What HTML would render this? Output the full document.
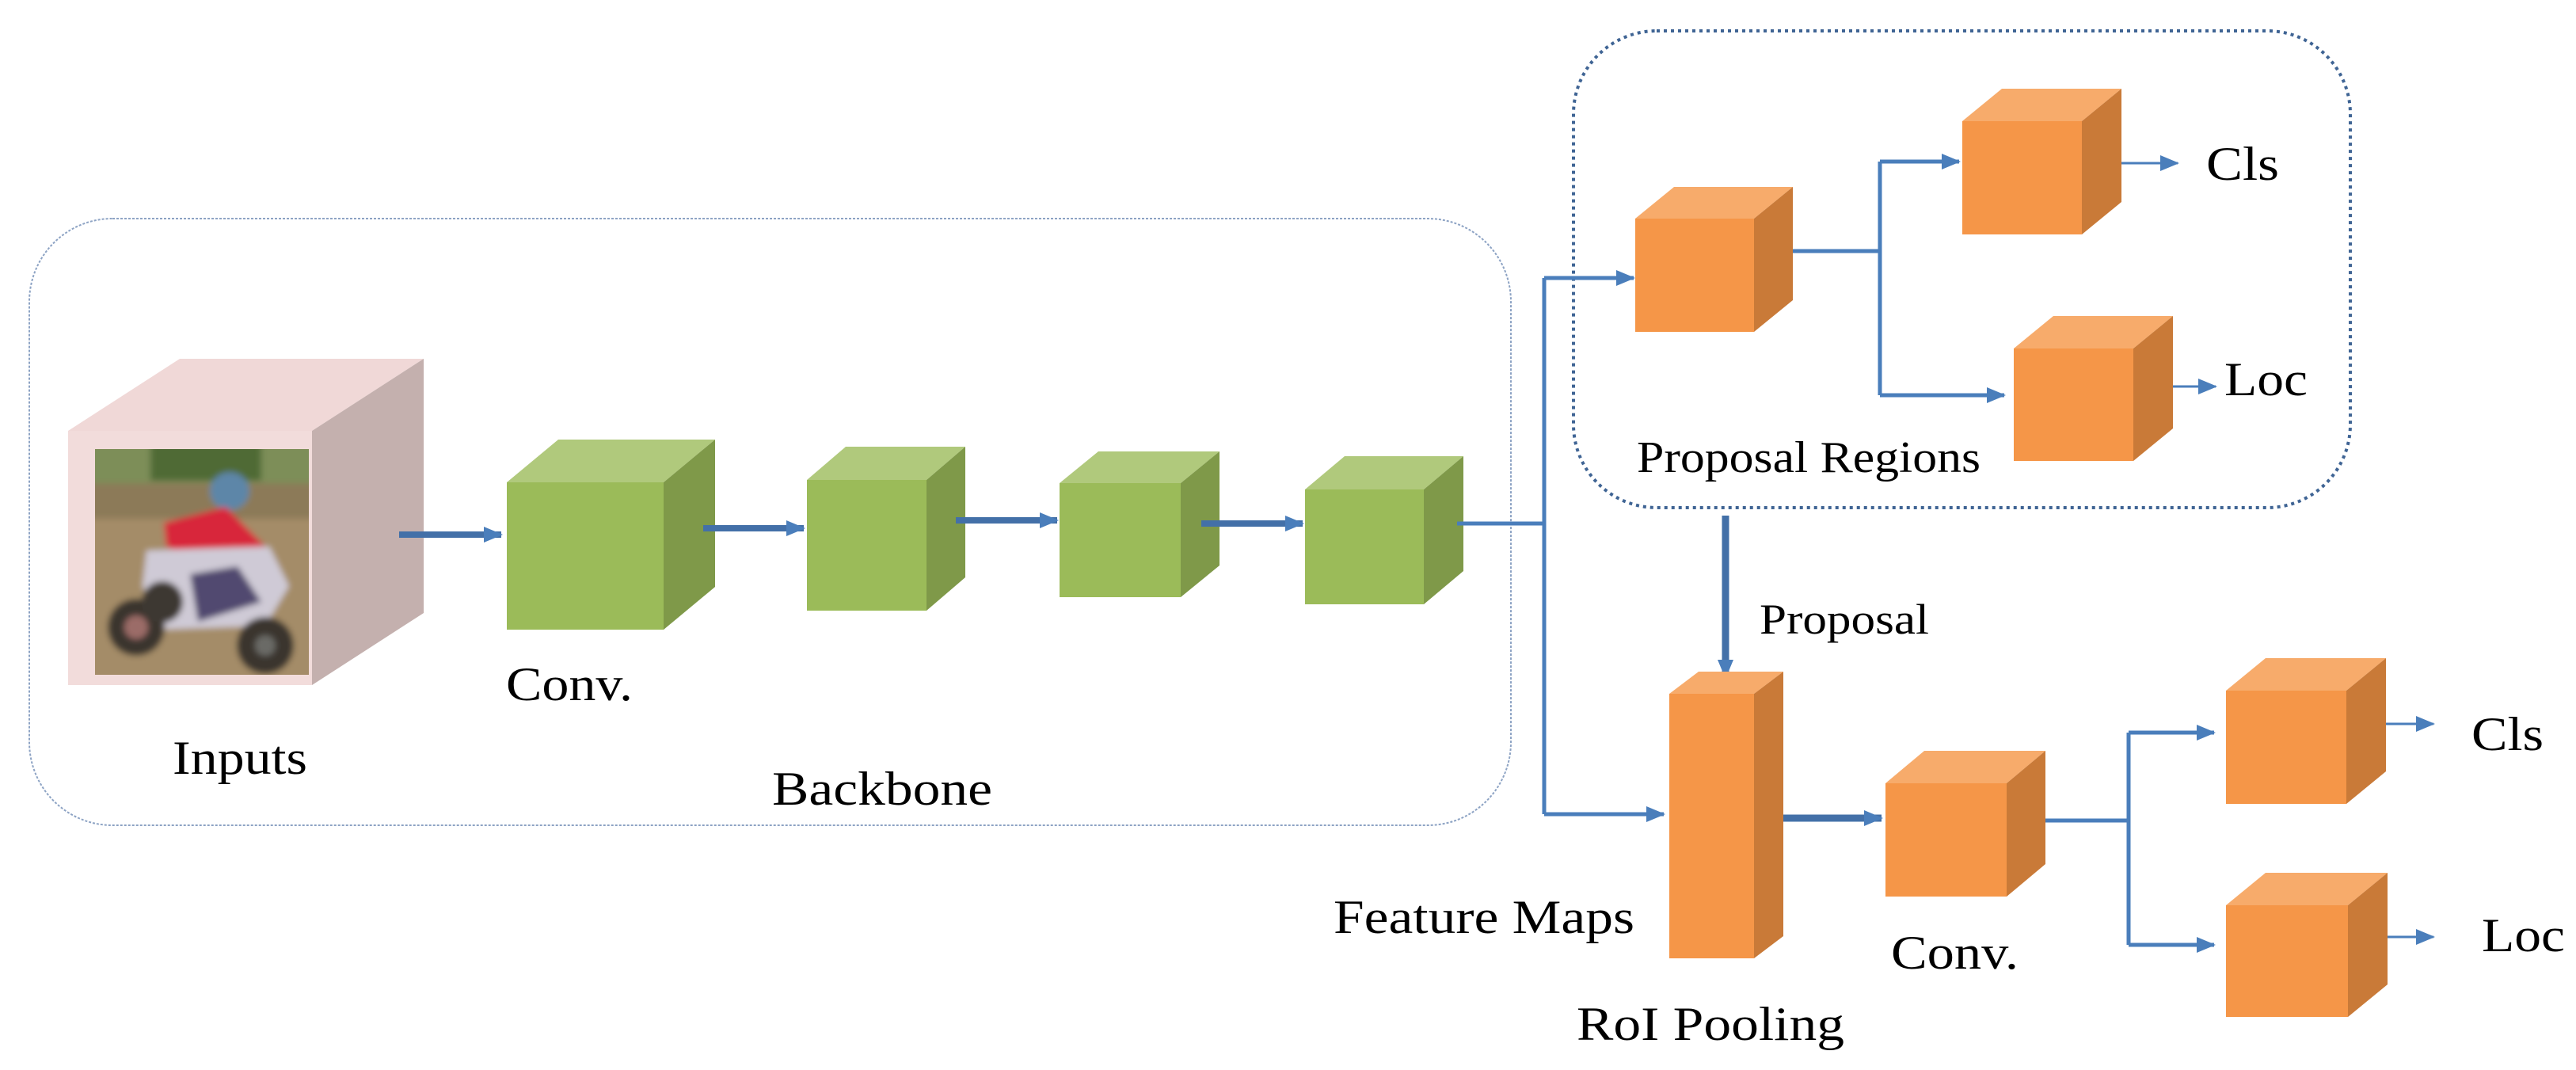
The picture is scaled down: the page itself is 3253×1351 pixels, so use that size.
<!DOCTYPE html>
<html><head><meta charset="utf-8"><style>html,body{margin:0;padding:0;background:#fff}svg{display:block}</style></head><body>
<svg width="3253" height="1351" viewBox="0 0 3253 1351" xmlns="http://www.w3.org/2000/svg" font-family="'Liberation Serif', serif" fill="#000">
<defs>
<marker id="ahb" markerWidth="24" markerHeight="20" refX="22" refY="10" orient="auto" markerUnits="userSpaceOnUse"><path d="M0,0 L24,10 L0,20 z" fill="#4a7ebb"/></marker>
<filter id="bl" x="0" y="0" width="1" height="1"><feGaussianBlur stdDeviation="4"/></filter>
<clipPath id="pc"><rect x="120" y="567" width="270" height="285"/></clipPath>
</defs>
<!-- Backbone box -->
<rect x="37" y="276" width="1871" height="766" rx="105" ry="105" fill="none" stroke="#8da3c4" stroke-width="2" stroke-dasharray="3,2"/>
<!-- Proposal box -->
<rect x="1987" y="39" width="981" height="602" rx="105" ry="105" fill="none" stroke="#3f6494" stroke-width="4" stroke-dasharray="4,5"/>

<!-- Input cube -->
<polygon points="86,544 227,453 535,453 394,544" fill="#f0d8d7"/>
<polygon points="394,544 535,453 535,774 394,865" fill="#c4b0ae"/>
<rect x="86" y="544" width="308" height="321" fill="#f2dcdb"/>
<!-- photo -->
<g clip-path="url(#pc)">
<g filter="url(#bl)">
<rect x="110" y="557" width="290" height="305" fill="#a48c68"/>
<rect x="110" y="557" width="290" height="55" fill="#7d8e58"/>
<rect x="190" y="557" width="140" height="50" fill="#4f6a35"/>
<rect x="110" y="610" width="290" height="45" fill="#8c7a58"/>
<ellipse cx="290" cy="620" rx="25" ry="24" fill="#5d86a8"/>
<path d="M207,660 L285,640 L335,690 L328,705 L295,690 L282,720 L272,748 L252,745 L248,705 L210,690 z" fill="#d8283a"/>
<path d="M185,695 L340,690 L365,740 L335,790 L200,795 L180,740 z" fill="#cfcad6"/>
<path d="M240,725 L300,715 L330,760 L250,785 z" fill="#514a70"/>
<circle cx="172" cy="792" r="36" fill="#3b352e"/><circle cx="172" cy="792" r="15" fill="#9b6c68"/>
<circle cx="335" cy="815" r="36" fill="#3b352e"/><circle cx="335" cy="815" r="13" fill="#6b6a66"/>
<circle cx="205" cy="760" r="26" fill="#3e3832"/>
</g>
</g>

<!-- green cubes -->
<g>
<polygon points="640,609 705,555 903,555 838,609" fill="#b0c97c"/>
<polygon points="838,609 903,555 903,741 838,795" fill="#7f9949"/>
<rect x="640" y="609" width="198" height="186" fill="#9bbb59"/>
<polygon points="1019,606 1068,564 1219,564 1170,606" fill="#b0c97c"/>
<polygon points="1170,606 1219,564 1219,729 1170,771" fill="#7f9949"/>
<rect x="1019" y="606" width="151" height="165" fill="#9bbb59"/>
<polygon points="1338,610 1387,570 1540,570 1491,610" fill="#b0c97c"/>
<polygon points="1491,610 1540,570 1540,714 1491,754" fill="#7f9949"/>
<rect x="1338" y="610" width="153" height="144" fill="#9bbb59"/>
<polygon points="1648,618 1698,576 1848,576 1798,618" fill="#b0c97c"/>
<polygon points="1798,618 1848,576 1848,721 1798,763" fill="#7f9949"/>
<rect x="1648" y="618" width="150" height="145" fill="#9bbb59"/>
</g>
<!-- backbone arrows -->
<g stroke="#4370a8" stroke-width="8" fill="none">
<line x1="504" y1="675" x2="633" y2="675" marker-end="url(#ahb)"/>
<line x1="888" y1="667" x2="1015" y2="667" marker-end="url(#ahb)"/>
<line x1="1207" y1="657" x2="1335" y2="657" marker-end="url(#ahb)"/>
<line x1="1517" y1="661" x2="1645" y2="661" marker-end="url(#ahb)"/>
</g>
<!-- connectors -->
<g stroke="#4a7ebb" stroke-width="5" fill="none">
<polyline points="1840,661 1950,661"/>
<polyline points="1950,351 1950,1028"/>
<line x1="1950" y1="351" x2="2063" y2="351" marker-end="url(#ahb)"/>
<line x1="1950" y1="1028" x2="2101" y2="1028" marker-end="url(#ahb)"/>
<polyline points="2251,317 2374,317"/>
<polyline points="2374,204 2374,499"/>
<line x1="2374" y1="204" x2="2474" y2="204" marker-end="url(#ahb)"/>
<line x1="2374" y1="499" x2="2531" y2="499" marker-end="url(#ahb)"/>
<line x1="2661" y1="206" x2="2750" y2="206" marker-end="url(#ahb)" stroke-width="3"/>
<line x1="2711" y1="488" x2="2798" y2="488" marker-end="url(#ahb)" stroke-width="3"/>
<polyline points="2579,1036 2688,1036"/>
<polyline points="2688,925 2688,1193"/>
<line x1="2688" y1="925" x2="2796" y2="925" marker-end="url(#ahb)"/>
<line x1="2688" y1="1193" x2="2796" y2="1193" marker-end="url(#ahb)"/>
<line x1="2999" y1="914" x2="3073" y2="914" marker-end="url(#ahb)" stroke-width="3"/>
<line x1="2999" y1="1183" x2="3073" y2="1183" marker-end="url(#ahb)" stroke-width="3"/>
</g>
<g stroke="#4370a8" stroke-width="9" fill="none">
<line x1="2179" y1="651" x2="2179" y2="855" marker-end="url(#ahb)"/>
<line x1="2248" y1="1033" x2="2376" y2="1033" marker-end="url(#ahb)"/>
</g>

<!-- orange cubes -->
<g>
<polygon points="2065,276 2114,236 2264,236 2215,276" fill="#f7ab6b"/>
<polygon points="2215,276 2264,236 2264,379 2215,419" fill="#c97a38"/>
<rect x="2065" y="276" width="150" height="143" fill="#f59648"/>

<polygon points="2478,153 2528,112 2679,112 2629,153" fill="#f7ab6b"/>
<polygon points="2629,153 2679,112 2679,255 2629,296" fill="#c97a38"/>
<rect x="2478" y="153" width="151" height="143" fill="#f59648"/>

<polygon points="2543,440 2593,399 2744,399 2694,440" fill="#f7ab6b"/>
<polygon points="2694,440 2744,399 2744,541 2694,582" fill="#c97a38"/>
<rect x="2543" y="440" width="151" height="142" fill="#f59648"/>

<polygon points="2108,876 2145,848 2252,848 2215,876" fill="#f7ab6b"/>
<polygon points="2215,876 2252,848 2252,1182 2215,1210" fill="#c97a38"/>
<rect x="2108" y="876" width="107" height="334" fill="#f59648"/>

<polygon points="2381,989 2430,948 2583,948 2534,989" fill="#f7ab6b"/>
<polygon points="2534,989 2583,948 2583,1091 2534,1132" fill="#c97a38"/>
<rect x="2381" y="989" width="153" height="143" fill="#f59648"/>

<polygon points="2811,872 2861,831 3013,831 2963,872" fill="#f7ab6b"/>
<polygon points="2963,872 3013,831 3013,974 2963,1015" fill="#c97a38"/>
<rect x="2811" y="872" width="152" height="143" fill="#f59648"/>

<polygon points="2811,1143 2861,1102 3015,1102 2965,1143" fill="#f7ab6b"/>
<polygon points="2965,1143 3015,1102 3015,1243 2965,1284" fill="#c97a38"/>
<rect x="2811" y="1143" width="154" height="141" fill="#f59648"/>
</g>

<!-- labels -->
<g font-size="60">
<text x="218" y="977" textLength="170" lengthAdjust="spacingAndGlyphs">Inputs</text>
<text x="639" y="884" textLength="160" lengthAdjust="spacingAndGlyphs">Conv.</text>
<text x="975" y="1016" textLength="278" lengthAdjust="spacingAndGlyphs">Backbone</text>
<text x="2067" y="596" font-size="56" textLength="434" lengthAdjust="spacingAndGlyphs">Proposal Regions</text>
<text x="2786" y="227" textLength="92" lengthAdjust="spacingAndGlyphs">Cls</text>
<text x="2809" y="499" textLength="105" lengthAdjust="spacingAndGlyphs">Loc</text>
<text x="2222" y="800" font-size="54" textLength="214" lengthAdjust="spacingAndGlyphs">Proposal</text>
<text x="1684" y="1178" textLength="380" lengthAdjust="spacingAndGlyphs">Feature Maps</text>
<text x="1991" y="1313" textLength="338" lengthAdjust="spacingAndGlyphs">RoI Pooling</text>
<text x="2388" y="1223" textLength="161" lengthAdjust="spacingAndGlyphs">Conv.</text>
<text x="3121" y="947" textLength="91" lengthAdjust="spacingAndGlyphs">Cls</text>
<text x="3134" y="1201" textLength="105" lengthAdjust="spacingAndGlyphs">Loc</text>
</g>
</svg>
</body></html>
